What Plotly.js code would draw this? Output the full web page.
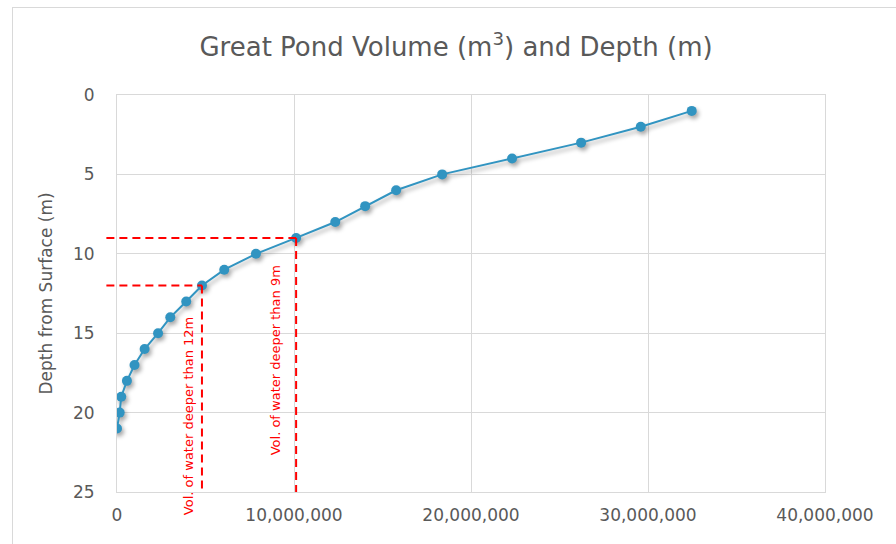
<!DOCTYPE html>
<html>
<head>
<meta charset="utf-8">
<script src="https://cdn.plot.ly/plotly-3.0.1.min.js"></script>
<style>
  html, body { margin: 0; padding: 0; background: #fff; }
  #chart { width: 896px; height: 544px; }
  #frame { position: absolute; left: 12px; top: 7px; width: 1000px; height: 1000px;
           border: 1px solid #d9d9d9; pointer-events: none; }
  #chart .scatterlayer .trace { filter: drop-shadow(2px 3px 2px rgba(0,0,0,0.35)); }
</style>
</head>
<body>
<div id="chart"></div>
<div id="frame"></div>
<script>
// Data
const depths = [1, 2, 3, 4, 5, 6, 7, 8, 9, 10, 11, 12, 13, 14, 15, 16, 17, 18, 19, 20, 21];
const volumes = [32470000, 29590000, 26220000, 22320000, 18370000, 15770000, 14020000,
                 12330000, 10120000, 7850000, 6060000, 4800000, 3910000, 3010000,
                 2320000, 1560000, 990000, 560000, 240000, 150000, 0];
const markerDepths = [9, 12];
const markerVolumes = [10120000, 4800000];
const markerLabels = ["Vol. of water deeper than 9m", "Vol. of water deeper than 12m"];
const xTicks = [0, 10000000, 20000000, 30000000, 40000000];
const yTicks = [0, 5, 10, 15, 20, 25];

const xMax = 40000000, yMax = 25;
const red = '#ff0000';
const grey = '#595959';
const font = 'DejaVu Sans, sans-serif';
const shapes = [];
const annotations = [];
const labelY = [0.332, 0.191];
const labelShift = [-21, -14];
markerDepths.forEach((d, i) => {
  const v = markerVolumes[i];
  shapes.push({type: 'line', xref: 'paper', yref: 'y', x0: -0.015, x1: v / xMax, y0: d, y1: d,
               line: {color: red, width: 2, dash: '8px,5px'}});
  shapes.push({type: 'line', xref: 'x', yref: 'y', x0: v, x1: v, y0: d, y1: yMax,
               line: {color: red, width: 2, dash: '8px,5px'}});
  annotations.push({xref: 'x', yref: 'paper', x: v, xanchor: 'center', xshift: labelShift[i],
                    y: labelY[i], yanchor: 'middle',
                    text: markerLabels[i], textangle: -90, showarrow: false,
                    font: {family: font, size: 13, color: red}});
});

const trace = {
  x: volumes, y: depths, type: 'scatter', mode: 'lines+markers',
  line: {color: '#3194c1', width: 2},
  marker: {color: '#3194c1', size: 10},
  hoverinfo: 'x+y'
};

const axisCommon = {
  showgrid: true, gridcolor: '#d9d9d9', gridwidth: 1,
  showline: true, linecolor: '#d9d9d9', linewidth: 1, mirror: true,
  zeroline: false, ticks: '',
  tickfont: {family: font, size: 17, color: grey}
};

const layout = {
  width: 896, height: 544,
  margin: {l: 117, r: 71, t: 95, b: 52},
  paper_bgcolor: '#ffffff', plot_bgcolor: '#ffffff',
  showlegend: false,
  title: {text: 'Great Pond Volume (m<sup>3</sup>) and Depth (m)', x: 0.509, xanchor: 'center',
          y: 0.914, yanchor: 'middle',
          font: {family: font, size: 26, color: grey}},
  xaxis: Object.assign({}, axisCommon, {
    range: [0, xMax], tickvals: xTicks, tickformat: ',d', ticklabelstandoff: 8
  }),
  yaxis: Object.assign({}, axisCommon, {
    range: [yMax, 0], tickvals: yTicks, ticklabelstandoff: 18,
    title: {text: 'Depth from Surface (m)', standoff: 16,
            font: {family: font, size: 17, color: grey}}
  }),
  shapes: shapes,
  annotations: annotations
};

Plotly.newPlot('chart', [trace], layout, {displayModeBar: false, staticPlot: true});
</script>
</body>
</html>
